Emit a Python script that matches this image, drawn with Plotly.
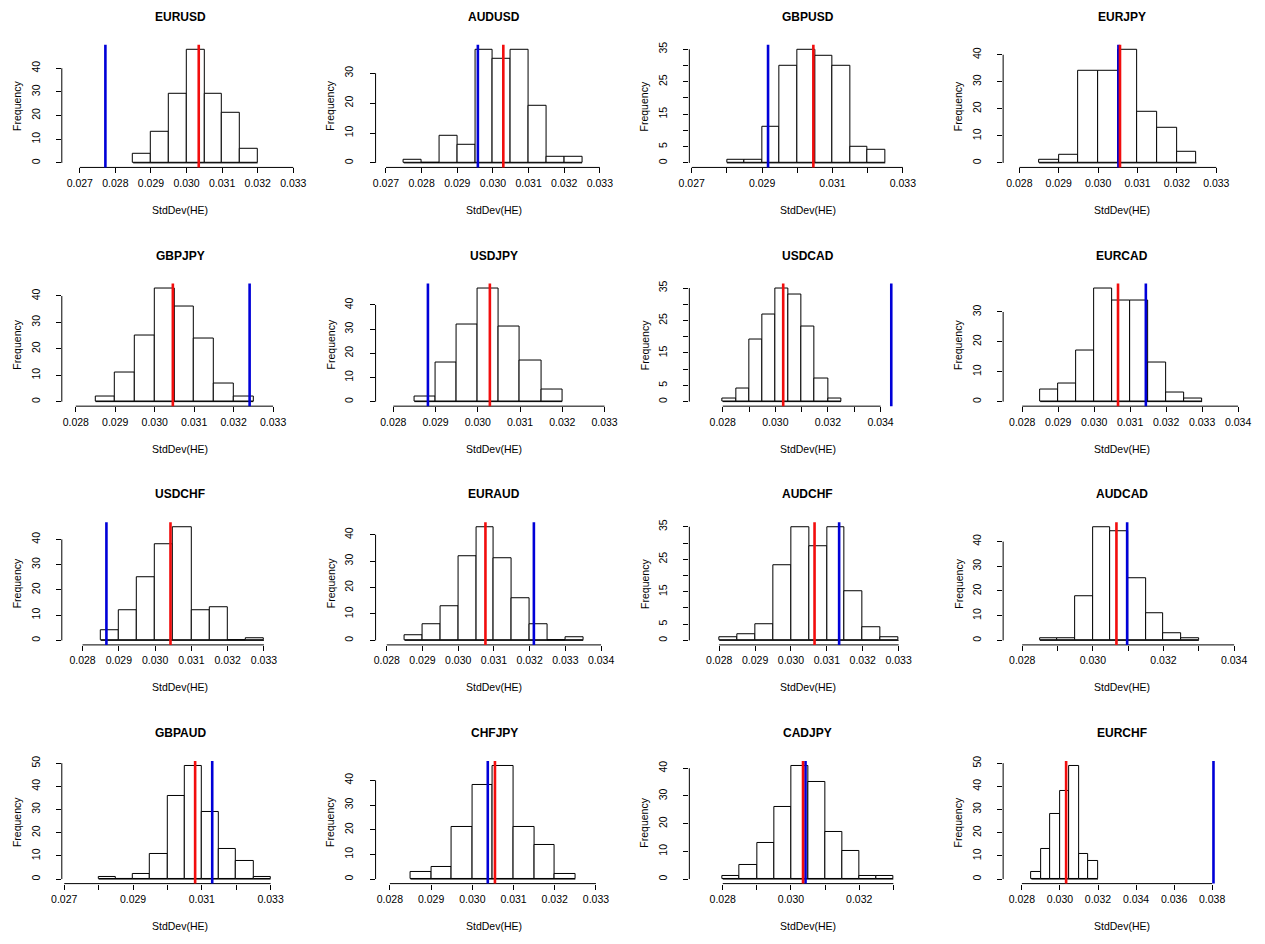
import plotly.graph_objects as go

# ---------------- data ----------------
PAIRS = ["EURUSD", "AUDUSD", "GBPUSD", "EURJPY",
         "GBPJPY", "USDJPY", "USDCAD", "EURCAD",
         "USDCHF", "EURAUD", "AUDCHF", "AUDCAD",
         "GBPAUD", "CHFJPY", "CADJPY", "EURCHF"]

BIN_WIDTH = 0.0005

# first histogram break for each pair
first_break = [0.0285, 0.0275, 0.0280, 0.0285,
               0.0285, 0.0285, 0.0280, 0.0285,
               0.0285, 0.0285, 0.0280, 0.0285,
               0.0280, 0.0285, 0.0280, 0.0285]

eurusd_counts = [4, 13, 29, 48, 29, 21, 6]
audusd_counts = [1, 0, 9, 6, 38, 35, 38, 19, 2, 2]
gbpusd_counts = [1, 1, 11, 30, 35, 33, 30, 5, 4]
eurjpy_counts = [1, 3, 34, 34, 42, 19, 13, 4]
gbpjpy_counts = [2, 11, 25, 43, 36, 24, 7, 2]
usdjpy_counts = [2, 16, 32, 47, 31, 17, 5]
usdcad_counts = [1, 4, 19, 27, 35, 33, 23, 7, 1]
eurcad_counts = [4, 6, 17, 38, 34, 34, 13, 3, 1]
usdchf_counts = [4, 12, 25, 38, 45, 12, 13, 0, 1]
euraud_counts = [2, 6, 13, 32, 43, 31, 16, 6, 0, 1]
audchf_counts = [1, 2, 5, 23, 35, 29, 35, 15, 4, 1]
audcad_counts = [1, 1, 18, 46, 44, 25, 11, 3, 1]
gbpaud_counts = [1, 0, 2, 11, 36, 49, 29, 13, 8, 1]
chfjpy_counts = [3, 5, 21, 38, 46, 21, 14, 2]
cadjpy_counts = [1, 5, 13, 26, 41, 35, 17, 10, 1, 1]
eurchf_counts = [3, 13, 28, 38, 49, 11, 8]

COUNTS = [eurusd_counts, audusd_counts, gbpusd_counts, eurjpy_counts,
          gbpjpy_counts, usdjpy_counts, usdcad_counts, eurcad_counts,
          usdchf_counts, euraud_counts, audchf_counts, audcad_counts,
          gbpaud_counts, chfjpy_counts, cadjpy_counts, eurchf_counts]

# red vertical line and blue vertical line positions
red_value = [0.030343, 0.030291, 0.030456, 0.030555,
             0.030460, 0.030286, 0.030298, 0.030663,
             0.030424, 0.030762, 0.030657, 0.030668,
             0.030806, 0.030549, 0.030353, 0.030324]
blue_value = [0.027720, 0.029577, 0.029169, 0.030515,
              0.032405, 0.028820, 0.034407, 0.031436,
              0.028658, 0.032118, 0.031342, 0.030971,
              0.031303, 0.030375, 0.030426, 0.038070]

# x tick labels: (first tick, last tick, step, label every n-th tick)
x_ticks = [(0.027, 0.033, 0.001, 1), (0.027, 0.033, 0.001, 1), (0.027, 0.033, 0.001, 2), (0.028, 0.033, 0.001, 1),
           (0.028, 0.033, 0.001, 1), (0.028, 0.033, 0.001, 1), (0.028, 0.034, 0.001, 2), (0.028, 0.034, 0.001, 1),
           (0.028, 0.033, 0.001, 1), (0.028, 0.034, 0.001, 1), (0.028, 0.033, 0.001, 1), (0.028, 0.034, 0.001, 2),
           (0.027, 0.033, 0.001, 2), (0.028, 0.033, 0.001, 1), (0.028, 0.033, 0.001, 2), (0.028, 0.038, 0.002, 1)]

# y tick labels: (last tick, step)
y_ticks = [(40, 10), (30, 10), (35, 5), (40, 10),
           (40, 10), (40, 10), (35, 5), (30, 10),
           (40, 10), (40, 10), (35, 5), (40, 10),
           (50, 10), (40, 10), (40, 10), (50, 10)]

# ---------------- layout / style ----------------
X_RANGE = [(0.026495, 0.033152), (0.026708, 0.033353), (0.026933, 0.033664), (0.027588, 0.033603),
           (0.027646, 0.033649), (0.027581, 0.033188), (0.026730, 0.035737), (0.027470, 0.034054),
           (0.027428, 0.033958), (0.027686, 0.034319), (0.027168, 0.033770), (0.027460, 0.034167),
           (0.026929, 0.033818), (0.027652, 0.033401), (0.027021, 0.033965), (0.027013, 0.039466)]

W, H = 1265, 944
COL_W, ROW_H = 319.33, 240.0
PLOT_L, PLOT_R = 51.7, 292.8
PLOT_T, PLOT_B = 40.0, 163.3
FONT = "Liberation Sans, Arial, Helvetica, sans-serif"
TICK_FS = 10.5
RED = "#F20D0D"
BLUE = "#0000D8"

fig = go.Figure()
layout = dict(width=W, height=H, margin=dict(l=0, r=0, t=0, b=0),
              paper_bgcolor="white", plot_bgcolor="white", showlegend=False,
              font=dict(family=FONT, size=TICK_FS, color="black"))
shapes = []
annotations = []

for i, name in enumerate(PAIRS):
    n = i + 1
    xa = "x" if n == 1 else f"x{n}"
    ya = "y" if n == 1 else f"y{n}"
    r, c = divmod(i, 4)
    counts = COUNTS[i]
    edges = [round(first_break[i] + k * BIN_WIDTH, 6) for k in range(len(counts) + 1)]
    centers = [(edges[k] + edges[k + 1]) / 2 for k in range(len(counts))]

    fig.add_trace(go.Bar(x=centers, y=counts, width=BIN_WIDTH,
                         marker=dict(color="white", line=dict(color="black", width=1)),
                         xaxis=xa, yaxis=ya, hoverinfo="skip"))
    fig.add_trace(go.Scatter(x=[edges[0], edges[-1]], y=[0, 0], mode="lines",
                             line=dict(color="black", width=1),
                             xaxis=xa, yaxis=ya, hoverinfo="skip"))

    # ticks
    t0, t1, st, every = x_ticks[i]
    nt = int(round((t1 - t0) / st))
    xv = [round(t0 + k * st, 4) for k in range(nt + 1)]
    xt = [f"{v:.3f}" if k % every == 0 else "" for k, v in enumerate(xv)]
    ymaxt, ys = y_ticks[i]
    yv = list(range(0, ymaxt + 1, ys))
    if ys == 5:
        yt = [str(v) if (v == 0 or v % 10 == 5) else "" for v in yv]
    else:
        yt = [str(v) for v in yv]

    ymax = max(counts)
    x0d = (c * COL_W + PLOT_L) / W
    x1d = (c * COL_W + PLOT_R) / W
    y0d = 1 - (r * ROW_H + PLOT_B) / H
    y1d = 1 - (r * ROW_H + PLOT_T) / H

    layout[f"xaxis{'' if n == 1 else n}"] = dict(
        domain=[x0d, x1d], anchor=ya, range=list(X_RANGE[i]),
        tickmode="array", tickvals=xv, ticktext=xt,
        ticks="outside", ticklen=5, tickwidth=1, tickcolor="black",
        showline=False, showgrid=False, zeroline=False,
        tickfont=dict(family=FONT, size=TICK_FS, color="black"),
        ticklabelstandoff=1, fixedrange=True)
    layout[f"yaxis{'' if n == 1 else n}"] = dict(
        domain=[y0d, y1d], anchor=xa, range=[-0.04 * ymax, 1.04 * ymax],
        tickmode="array", tickvals=yv, ticktext=yt, tickangle=-90,
        ticks="outside", ticklen=5, tickwidth=1, tickcolor="black",
        showline=False, showgrid=False, zeroline=False,
        tickfont=dict(family=FONT, size=TICK_FS, color="black"),
        ticklabelstandoff=12, fixedrange=True)

    # axis lines spanning first to last tick (R style)
    shapes.append(dict(type="line", xref=xa, yref=f"{ya} domain",
                       x0=xv[0], x1=xv[-1], y0=0, y1=0,
                       line=dict(color="black", width=1)))
    shapes.append(dict(type="line", xref=f"{xa} domain", yref=ya,
                       x0=0, x1=0, y0=yv[0], y1=yv[-1],
                       line=dict(color="black", width=1)))
    # vertical reference lines
    shapes.append(dict(type="line", xref=xa, yref=f"{ya} domain",
                       x0=blue_value[i], x1=blue_value[i], y0=0, y1=1,
                       line=dict(color=BLUE, width=2.6)))
    shapes.append(dict(type="line", xref=xa, yref=f"{ya} domain",
                       x0=red_value[i], x1=red_value[i], y0=0, y1=1,
                       line=dict(color=RED, width=2.6)))

    # titles
    annotations.append(dict(text=f"<b>{name}</b>", xref=f"{xa} domain", yref=f"{ya} domain",
                            x=0.5, y=1, yshift=28, showarrow=False,
                            xanchor="center", yanchor="middle",
                            font=dict(family=FONT, size=12, color="black")))
    annotations.append(dict(text="StdDev(HE)", xref=f"{xa} domain", yref=f"{ya} domain",
                            x=0.5, y=0, yshift=-42.5, showarrow=False,
                            xanchor="center", yanchor="middle",
                            font=dict(family=FONT, size=TICK_FS, color="black")))
    annotations.append(dict(text="Frequency", xref=f"{xa} domain", yref=f"{ya} domain",
                            x=0, y=0.5, xshift=-45, showarrow=False, textangle=-90,
                            xanchor="center", yanchor="middle",
                            font=dict(family=FONT, size=TICK_FS, color="black")))

layout["shapes"] = shapes
layout["annotations"] = annotations
layout["bargap"] = 0
fig.update_layout(**layout)
fig.write_html("out.html", config={"displayModeBar": False},
               post_script="document.body.style.margin='0px';")
